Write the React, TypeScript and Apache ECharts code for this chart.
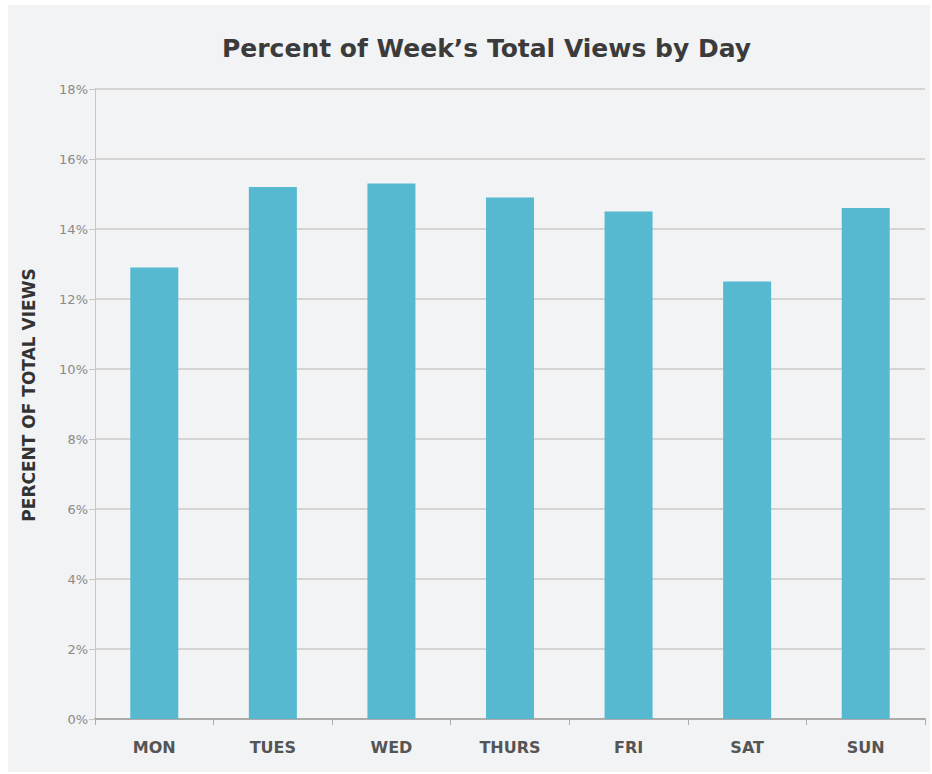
import React, { useEffect, useRef } from "react";
import * as echarts from "echarts";

const days = ["MON", "TUES", "WED", "THURS", "FRI", "SAT", "SUN"];
const percentViews = [12.9, 15.2, 15.3, 14.9, 14.5, 12.5, 14.6];
const yTicks = { min: 0, max: 18, interval: 2 };
const titleText = "Percent of Week\u2019s Total Views by Day";
const yAxisTitle = "PERCENT OF TOTAL VIEWS";

export default function App() {
  const ref = useRef<HTMLDivElement>(null);
  useEffect(() => {
    if (!ref.current) return;
    const chart = echarts.init(ref.current, undefined, { renderer: "svg" });
    chart.setOption({
      animation: false,
      backgroundColor: "#ffffff",
      graphic: [
        {
          type: "rect",
          z: -10,
          silent: true,
          shape: { x: 8, y: 5, width: 922, height: 767 },
          style: { fill: "#f2f3f4" },
        },
      ],
      title: {
        text: titleText,
        left: 217,
        top: 31,
        textStyle: {
          fontFamily: "DejaVu Sans",
          fontWeight: "bold",
          fontSize: 25,
          color: "#3b3b3b",
        },
      },
      grid: { left: 95, right: 7, top: 89, bottom: 55 },
      xAxis: {
        type: "category",
        data: days,
        axisLine: { show: true, lineStyle: { color: "#aeacab", width: 2 } },
        axisTick: { show: true, length: 6, lineStyle: { color: "#aeacab" } },
        axisLabel: {
          margin: 20,
          fontFamily: "DejaVu Sans",
          fontWeight: "bold",
          fontSize: 16,
          color: "#555555",
        },
      },
      yAxis: {
        type: "value",
        min: yTicks.min,
        max: yTicks.max,
        interval: yTicks.interval,
        name: yAxisTitle,
        nameLocation: "middle",
        nameGap: 58,
        nameTextStyle: {
          fontFamily: "DejaVu Sans",
          fontWeight: "bold",
          fontSize: 17,
          color: "#333333",
          padding: [0, 0, 0, 18],
        },
        axisLine: { show: true, lineStyle: { color: "#c9c7c6", width: 1 } },
        axisTick: { show: true, length: 6, lineStyle: { color: "#c9c7c6" } },
        axisLabel: {
          formatter: "{value}%",
          margin: 7,
          fontFamily: "DejaVu Sans",
          fontSize: 13,
          color: "#8a8a8a",
        },
        splitLine: { show: true, lineStyle: { color: "#d6d4d3", width: 2 } },
      },
      series: [
        {
          type: "bar",
          data: percentViews,
          barWidth: 48,
          itemStyle: { color: "#56b9d0" },
        },
      ],
    });
    return () => chart.dispose();
  }, []);
  return (
    <div
      ref={ref}
      style={{ position: "fixed", left: 0, top: 0, width: 932, height: 774 }}
    />
  );
}
